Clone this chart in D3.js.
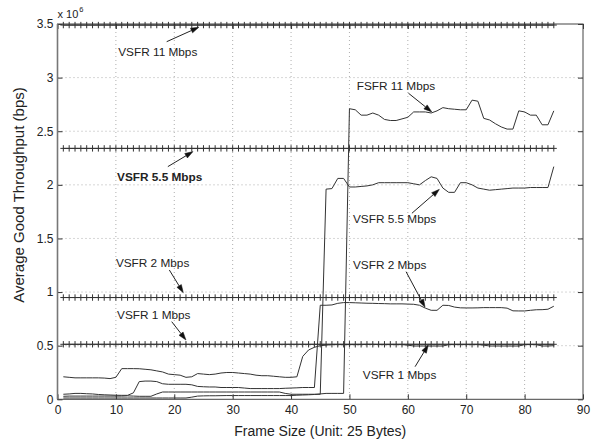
<!DOCTYPE html>
<html>
<head>
<meta charset="utf-8">
<script src="https://cdn.jsdelivr.net/npm/d3@7"></script>
<style>
  body { margin: 0; background: #fff; }
  svg { display: block; }
  text { font-family: "Liberation Sans", Arial, Helvetica, sans-serif; fill: #222; }
</style>
</head>
<body>
<svg id="chart" width="599" height="440"></svg>
<script>
// Frame size in units of 25 bytes
const frameSize = d3.range(1, 86);

// Average good throughput, in units of 10^6 bps
// Fixed-size frame (FSFR) results per frame size 1..85
const fsfr1 = [
  0.21, 0.205, 0.20, 0.20, 0.20, 0.20, 0.20, 0.198, 0.193, 0.205,
  0.286, 0.286, 0.286, 0.285, 0.28, 0.275, 0.265, 0.255, 0.235, 0.23,
  0.225, 0.205, 0.21, 0.24, 0.235, 0.23, 0.235, 0.245, 0.25, 0.25,
  0.245, 0.24, 0.235, 0.225, 0.22, 0.22, 0.215, 0.21, 0.205, 0.205,
  0.21, 0.40, 0.46, 0.485, 0.50, 0.505, 0.51, 0.51, 0.51, 0.51,
  0.51, 0.51, 0.512, 0.512, 0.51, 0.51, 0.51, 0.51, 0.51, 0.505,
  0.497, 0.497, 0.497, 0.497, 0.497, 0.497, 0.51, 0.51, 0.51, 0.51,
  0.51, 0.51, 0.505, 0.497, 0.497, 0.497, 0.497, 0.497, 0.497, 0.51,
  0.51, 0.51, 0.497, 0.497, 0.50
];
const fsfr2 = [
  0.047, 0.05, 0.055, 0.055, 0.052, 0.05, 0.045, 0.042, 0.04, 0.038,
  0.037, 0.037, 0.06, 0.165, 0.17, 0.17, 0.165, 0.145, 0.14, 0.14,
  0.14, 0.14, 0.135, 0.12, 0.117, 0.115, 0.115, 0.11, 0.11, 0.11,
  0.11, 0.105, 0.10, 0.10, 0.10, 0.10, 0.10, 0.10, 0.103, 0.105,
  0.107, 0.11, 0.11, 0.11, 0.877, 0.877, 0.88, 0.895, 0.902, 0.902,
  0.90, 0.898, 0.896, 0.895, 0.893, 0.892, 0.89, 0.89, 0.89, 0.888,
  0.886, 0.877, 0.85, 0.83, 0.83, 0.877, 0.875, 0.86, 0.853, 0.852,
  0.852, 0.853, 0.855, 0.855, 0.855, 0.855, 0.85, 0.825, 0.824, 0.824,
  0.83, 0.835, 0.836, 0.84, 0.868
];
const fsfr55 = [
  0.028, 0.03, 0.03, 0.03, 0.03, 0.03, 0.03, 0.03, 0.03, 0.03,
  0.03, 0.032, 0.03, 0.028, 0.028, 0.028, 0.05, 0.068, 0.068, 0.068,
  0.068, 0.068, 0.068, 0.068, 0.068, 0.068, 0.068, 0.068, 0.068, 0.068,
  0.068, 0.068, 0.068, 0.068, 0.068, 0.068, 0.068, 0.068, 0.055, 0.047,
  0.047, 0.047, 0.047, 0.047, 0.047, 1.96, 1.965, 2.06, 2.06, 1.98,
  1.98, 1.985, 1.99, 2.00, 2.02, 2.02, 2.02, 2.02, 2.02, 2.02,
  2.01, 2.00, 2.04, 2.075, 2.06, 1.97, 1.93, 1.93, 2.02, 2.02,
  2.00, 1.97, 1.96, 1.95, 1.955, 1.96, 1.965, 1.97, 1.97, 1.97,
  1.975, 1.975, 1.975, 1.975, 2.17
];
const fsfr11 = [
  0.012, 0.012, 0.012, 0.012, 0.012, 0.012, 0.012, 0.012, 0.012, 0.012,
  0.012, 0.012, 0.012, 0.012, 0.012, 0.012, 0.012, 0.012, 0.012, 0.012,
  0.012, 0.012, 0.02, 0.03, 0.032, 0.033, 0.033, 0.034, 0.035, 0.035,
  0.035, 0.035, 0.035, 0.035, 0.035, 0.035, 0.035, 0.035, 0.035, 0.035,
  0.038, 0.04, 0.042, 0.045, 0.05, 0.055, 0.055, 0.055, 0.055, 2.71,
  2.70, 2.65, 2.65, 2.67, 2.65, 2.61, 2.60, 2.60, 2.615, 2.63,
  2.68, 2.68, 2.68, 2.67, 2.69, 2.72, 2.71, 2.705, 2.70, 2.70,
  2.79, 2.78, 2.62, 2.605, 2.57, 2.54, 2.52, 2.52, 2.69, 2.68,
  2.65, 2.65, 2.56, 2.56, 2.69
];

// Variable-size frame (VSFR) results: flat throughput at every frame size
const vsfrNames = ["VSFR 11 Mbps", "VSFR 5.5 Mbps", "VSFR 2 Mbps", "VSFR 1 Mbps"];
const vsfrLevels = [3.49, 2.34, 0.949, 0.513];

// Axis ticks
const xTicks = [0, 10, 20, 30, 40, 50, 60, 70, 80, 90];
const yTicks = [0, 0.5, 1, 1.5, 2, 2.5, 3, 3.5];

// Callout labels: text anchor [x, y] and arrow tail/head, in data units
const noteText = ["VSFR 11 Mbps", "VSFR 5.5 Mbps", "FSFR 11 Mbps", "VSFR 5.5 Mbps",
                  "VSFR 2 Mbps", "VSFR 1 Mbps", "VSFR 2 Mbps", "VSFR 1 Mbps"];
const noteBold = [false, true, false, false, false, false, false, false];
const noteAt = [[10.4, 3.20], [10.2, 2.035], [51.25, 2.885], [50.6, 1.644],
                [10.0, 1.234], [10.2, 0.749], [50.6, 1.215], [52.3, 0.189]];
const arrowFrom = [[18.7, 3.335], [18.9, 2.17], [60.1, 2.855], [60.7, 1.735],
                   [19.15, 1.206], [19.56, 0.724], [59.7, 1.19], [61.24, 0.304]];
const arrowTo = [[24.2, 3.47], [23.2, 2.31], [64.1, 2.68], [65.4, 1.958],
                 [21.55, 0.994], [22.0, 0.553], [62.95, 0.858], [63.5, 0.506]];

const svg = d3.select("#chart");
const W = 599, H = 440;
svg.append("rect").attr("width", W).attr("height", H).attr("fill", "#fff");

const x = d3.scaleLinear().domain([0, 90]).range([57.5, 583]);
const y = d3.scaleLinear().domain([0, 3.5]).range([399.3, 24]);
const [x0, x1] = x.range();
const [y0, y1] = y.range();

// Dotted grid
const grid = svg.append("g").attr("stroke", "#9a9a9a").attr("stroke-width", 0.8)
  .attr("stroke-dasharray", "1,3");
grid.selectAll("line.gx").data(xTicks.slice(1, -1)).join("line")
  .attr("x1", d => x(d)).attr("x2", d => x(d)).attr("y1", y1).attr("y2", y0);
grid.selectAll("line.gy").data(yTicks.slice(1, -1)).join("line")
  .attr("x1", x0).attr("x2", x1).attr("y1", d => y(d)).attr("y2", d => y(d));

// Axes with inward ticks on all four sides
function styleAxis(g) {
  g.select(".domain").remove();
  g.selectAll(".tick line").attr("stroke", "#333");
  g.selectAll(".tick text").attr("fill", "#222")
    .style("font-family", '"Liberation Sans", Arial, sans-serif').style("font-size", "12px");
}
svg.append("g").attr("transform", `translate(0,${y0})`)
  .call(d3.axisBottom(x).tickValues(xTicks).tickSize(-5).tickPadding(6).tickFormat(d3.format("d")))
  .call(styleAxis);
svg.append("g").attr("transform", `translate(0,${y1})`)
  .call(d3.axisTop(x).tickValues(xTicks).tickSize(-5).tickFormat(""))
  .call(styleAxis);
svg.append("g").attr("transform", `translate(${x0},0)`)
  .call(d3.axisLeft(y).tickValues(yTicks).tickSize(-5).tickPadding(4).tickFormat(d3.format("~g")))
  .call(styleAxis);
svg.append("g").attr("transform", `translate(${x1},0)`)
  .call(d3.axisRight(y).tickValues(yTicks).tickSize(-5).tickFormat(""))
  .call(styleAxis);

// Plot frame
svg.append("rect").attr("x", x0).attr("y", y1).attr("width", x1 - x0).attr("height", y0 - y1)
  .attr("fill", "none").attr("stroke", "#444").attr("stroke-width", 1);
svg.append("line").attr("x1", x0).attr("x2", x0).attr("y1", y1).attr("y2", y0)
  .attr("stroke", "#777").attr("stroke-width", 1.6);

// FSFR curves
const line = d3.line().x((d, i) => x(frameSize[i])).y(d => y(d));
const curves = svg.append("g").attr("fill", "none").attr("stroke", "#333")
  .attr("stroke-width", 1).attr("stroke-linejoin", "round");
[fsfr11, fsfr55, fsfr2, fsfr1].forEach(s => curves.append("path").attr("d", line(s)));

// VSFR levels drawn as lines with '+' markers
const vs = svg.append("g").attr("stroke", "#333").attr("fill", "none").attr("stroke-width", 1);
vsfrLevels.forEach((v, k) => {
  const g = vs.append("g").attr("class", "vsfr").attr("data-name", vsfrNames[k]);
  g.append("path").attr("d", d3.line().x(d => x(d)).y(() => y(v))(frameSize));
  g.selectAll("path.m").data(frameSize).join("path").attr("class", "m")
    .attr("transform", d => `translate(${x(d)},${y(v)})`)
    .attr("d", "M-3,0H3M0,-3.2V3.2");
});

// Callouts with arrows
const notes = svg.append("g");
noteText.forEach((t, i) => {
  notes.append("text").attr("x", x(noteAt[i][0])).attr("y", y(noteAt[i][1]))
    .style("font-size", "11.8px").style("font-weight", noteBold[i] ? "bold" : "normal")
    .text(t);
  const ax = x(arrowFrom[i][0]), ay = y(arrowFrom[i][1]);
  const bx = x(arrowTo[i][0]), by = y(arrowTo[i][1]);
  const ang = Math.atan2(by - ay, bx - ax);
  const L = 8, Wd = 2.6;
  const cx = bx - L * Math.cos(ang), cy = by - L * Math.sin(ang);
  notes.append("line").attr("x1", ax).attr("y1", ay).attr("x2", cx).attr("y2", cy)
    .attr("stroke", "#222").attr("stroke-width", 1);
  const p = [[bx, by],
             [cx + Wd * Math.sin(ang), cy - Wd * Math.cos(ang)],
             [cx - Wd * Math.sin(ang), cy + Wd * Math.cos(ang)]];
  notes.append("path").attr("d", "M" + p.map(q => q.join(",")).join("L") + "Z")
    .attr("fill", "#111").attr("stroke", "#111").attr("stroke-width", 0.5);
});

// Scale multiplier
const mult = svg.append("text").attr("x", x0).attr("y", 18).style("font-size", "11px");
mult.append("tspan").text("x 10");
mult.append("tspan").attr("dy", -6).attr("dx", 1).style("font-size", "7.5px").text("6");

// Axis titles
svg.append("text").attr("x", (x0 + x1) / 2).attr("y", 436).attr("text-anchor", "middle")
  .style("font-size", "14px").text("Frame Size (Unit: 25 Bytes)");
svg.append("text").attr("transform", "translate(24,195) rotate(-90)").attr("text-anchor", "middle")
  .style("font-size", "15px").text("Average Good Throughput (bps)");
</script>
</body>
</html>
